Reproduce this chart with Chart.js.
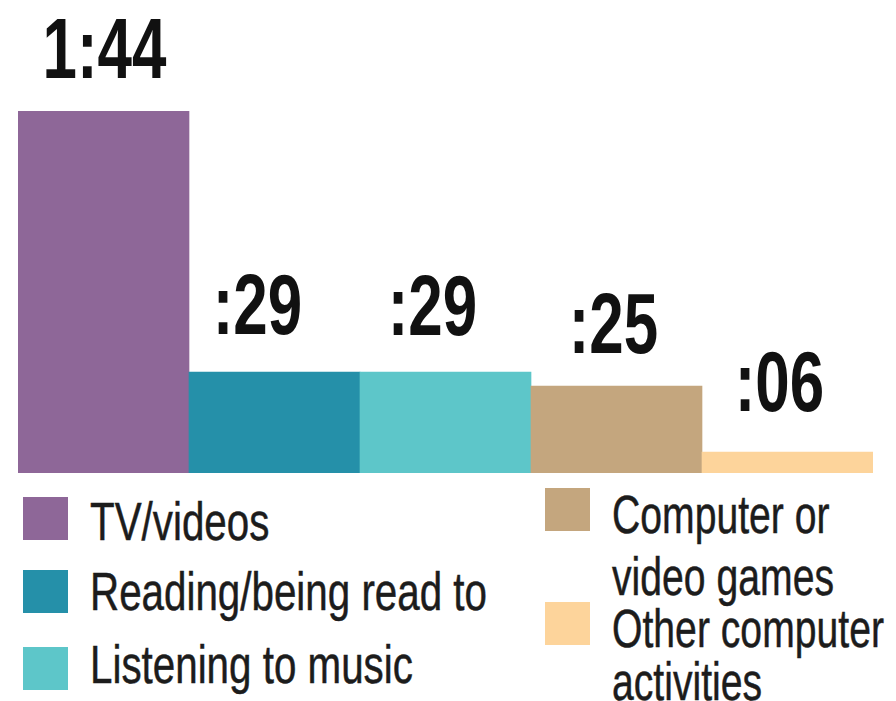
<!DOCTYPE html>
<html>
<head>
<meta charset="utf-8">
<script src="https://cdn.jsdelivr.net/npm/chart.js@4"></script>
<style>
  html, body { margin: 0; padding: 0; background: #ffffff; }
  #wrap { position: relative; width: 896px; height: 701px; overflow: hidden; background: #fff; }
  #c { position: absolute; left: 0; top: 0; }
  .sw { position: absolute; width: 45px; height: 43px; }
  .tx { position: absolute; white-space: pre; font-family: 'Liberation Sans', Arial, sans-serif;
        font-size: 54px; color: #1c1c1c; transform-origin: 0 0; -webkit-text-stroke: 0.5px #1c1c1c; }
</style>
</head>
<body>
<div id="wrap">
  <canvas id="c" width="896" height="473"></canvas>
</div>
<script>
// ---- data ----
const categories = ['TV/videos', 'Reading/being read to', 'Listening to music', 'Computer or video games', 'Other computer activities'];
const legendText = ['TV/videos', 'Reading/being read to', 'Listening to music', 'Computer or\nvideo games', 'Other computer\nactivities'];
const minutes = [104, 29, 29, 25, 6];
const valueLabels = ['1:44', ':29', ':29', ':25', ':06'];
const barColors = ['#8e6798', '#2590a9', '#5dc6c9', '#c4a67e', '#fdd49b'];

// ---- layout (positions only) ----
const legendLayout = [
  { sx: 23, sy: 497, tx: 90, ty: 495, lh: 52, sc: 0.747 },
  { sx: 23, sy: 570, tx: 90, ty: 565, lh: 52, sc: 0.747 },
  { sx: 23, sy: 647, tx: 90, ty: 638, lh: 52, sc: 0.747 },
  { sx: 545, sy: 488, tx: 612, ty: 483, lh: 62, sc: 0.725 },
  { sx: 545, sy: 602, tx: 612, ty: 602, lh: 53, sc: 0.725 }
];
const labelShift = [
  { dx: 1, dy: -33 },
  { dx: -17, dy: -38 },
  { dx: -13, dy: -37 },
  { dx: -3, dy: -33 },
  { dx: -8, dy: -41 }
];

const wrap = document.getElementById('wrap');
legendText.forEach((name, i) => {
  const L = legendLayout[i];
  const sw = document.createElement('div');
  sw.className = 'sw';
  sw.style.left = L.sx + 'px';
  sw.style.top = L.sy + 'px';
  sw.style.background = barColors[i];
  const tx = document.createElement('div');
  tx.className = 'tx';
  tx.style.left = L.tx + 'px';
  tx.style.top = L.ty + 'px';
  tx.style.lineHeight = L.lh + 'px';
  tx.style.transform = 'scaleX(' + L.sc + ')';
  tx.textContent = name;
  wrap.appendChild(sw);
  wrap.appendChild(tx);
});

const valueLabelPlugin = {
  id: 'valueLabels',
  afterDatasetsDraw(chart) {
    const ctx = chart.ctx;
    const meta = chart.getDatasetMeta(0);
    ctx.save();
    ctx.fillStyle = '#111111';
    ctx.font = "bold 86px 'Liberation Sans', Arial, sans-serif";
    ctx.textAlign = 'center';
    ctx.textBaseline = 'alphabetic';
    meta.data.forEach((bar, i) => {
      ctx.save();
      ctx.translate(bar.x + labelShift[i].dx, bar.y + labelShift[i].dy);
      ctx.scale(0.72, 1);
      ctx.fillText(valueLabels[i], 0, 0);
      ctx.restore();
    });
    ctx.restore();
  }
};

new Chart(document.getElementById('c'), {
  type: 'bar',
  data: {
    labels: categories,
    datasets: [{
      data: minutes,
      backgroundColor: barColors,
      borderWidth: 0,
      barPercentage: 1.0,
      categoryPercentage: 1.0
    }]
  },
  options: {
    responsive: false,
    animation: false,
    devicePixelRatio: 1,
    layout: { padding: { left: 18, right: 23, top: 0, bottom: 0 } },
    plugins: { legend: { display: false }, tooltip: { enabled: false } },
    scales: {
      x: { display: false },
      y: { display: false, min: 0, max: 136 }
    }
  },
  plugins: [valueLabelPlugin]
});
</script>
</body>
</html>
